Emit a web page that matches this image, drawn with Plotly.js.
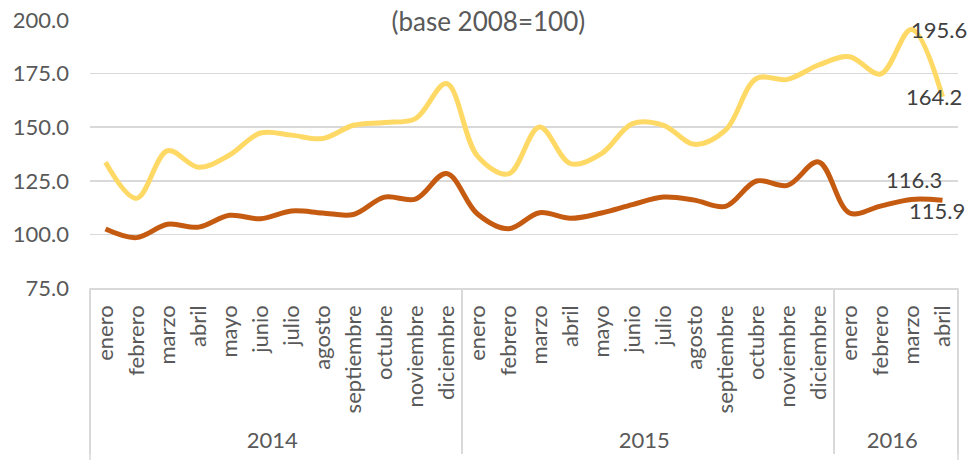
<!DOCTYPE html>
<html>
<head>
<meta charset="utf-8">
<script src="https://cdn.plot.ly/plotly-3.0.1.min.js"></script>
<style>html,body{margin:0;padding:0;background:#fff;} #chart{width:967px;height:460px;}</style>
</head>
<body>
<div id="chart"></div>
<script>
const years = ["2014","2014","2014","2014","2014","2014","2014","2014","2014","2014","2014","2014",
               "2015","2015","2015","2015","2015","2015","2015","2015","2015","2015","2015","2015",
               "2016","2016","2016","2016"];
const months = ["enero","febrero","marzo","abril","mayo","junio","julio","agosto","septiembre","octubre","noviembre","diciembre",
                "enero","febrero","marzo","abril","mayo","junio","julio","agosto","septiembre","octubre","noviembre","diciembre",
                "enero","febrero","marzo","abril"];
const seriesYellow = [133.6,116.8,139.0,131.3,137.0,147.3,146.3,144.7,150.9,152.2,154.0,170.4,
                      136.5,128.2,150.1,133.0,137.7,151.7,150.9,142.0,148.6,172.7,172.3,179.0,
                      182.9,174.8,195.6,164.2];
const seriesOrange = [102.5,98.5,104.7,103.4,108.9,107.3,110.9,110.0,109.3,117.4,116.5,128.4,
                      109.5,102.6,110.1,107.5,110.0,113.9,117.4,116.0,113.1,124.9,122.9,133.8,
                      110.0,113.2,116.3,115.9];
const yTicks = [75,100,125,150,175,200];
const yTickLabels = ["75.0","100.0","125.0","150.0","175.0","200.0"];

const FONT = "Lato, 'Open Sans', sans-serif";
const x = [years, months];
const n = months.length;

const traces = [
  {x: x, y: seriesYellow, type: "scatter", mode: "lines",
   line: {color: "#FFD966", width: 5, shape: "spline", smoothing: 1}, hoverinfo: "skip"},
  {x: x, y: seriesOrange, type: "scatter", mode: "lines",
   line: {color: "#C55A11", width: 5, shape: "spline", smoothing: 1}, hoverinfo: "skip"}
];

const labelFont = {family: FONT, size: 22, color: "#404040"};
const iMar = 26, iAbr = 27;
const annotations = [
  {x: iMar, y: seriesYellow[iMar], xref: "x", yref: "y", text: seriesYellow[iMar].toFixed(1), showarrow: false,
   xanchor: "left", yanchor: "middle", xshift: -3, yshift: 0, font: labelFont},
  {x: iAbr, y: seriesYellow[iAbr], xref: "x", yref: "y", text: seriesYellow[iAbr].toFixed(1), showarrow: false,
   xanchor: "right", yanchor: "middle", xshift: 21, yshift: 0, font: labelFont},
  {x: iMar, y: seriesOrange[iMar], xref: "x", yref: "y", text: seriesOrange[iMar].toFixed(1), showarrow: false,
   xanchor: "center", yanchor: "bottom", xshift: 2, yshift: 4, font: labelFont},
  {x: iAbr, y: seriesOrange[iAbr], xref: "x", yref: "y", text: seriesOrange[iAbr].toFixed(1), showarrow: false,
   xanchor: "center", yanchor: "top", xshift: -6, yshift: 5, font: labelFont}
];

const edgeLine = {type: "line", xref: "paper", yref: "paper", y0: 0, y1: -172/268,
                  line: {color: "#D9D9D9", width: 1.5}};
const shapes = [
  Object.assign({}, edgeLine, {x0: 0, x1: 0}),
  Object.assign({}, edgeLine, {x0: 1, x1: 1})
];

const layout = {
  width: 967, height: 460,
  margin: {l: 90, r: 9, t: 20, b: 172},
  paper_bgcolor: "#ffffff", plot_bgcolor: "#ffffff",
  showlegend: false,
  font: {family: FONT, color: "#595959", size: 22},
  title: {text: "(base 2008=100)", x: 0.505, xanchor: "center", y: 0.952, yanchor: "middle",
          font: {family: FONT, size: 26, color: "#595959"}},
  xaxis: {type: "multicategory", range: [-0.5, n - 0.5], tickangle: -90, showgrid: false, zeroline: false,
          showline: true, linecolor: "#D9D9D9", linewidth: 1.5, ticks: "",
          showdividers: true, dividercolor: "#D9D9D9", dividerwidth: 1.5,
          ticklabelstandoff: 7,
          tickfont: {family: FONT, size: 22, color: "#595959"}},
  yaxis: {range: [75, 200], tickvals: yTicks, ticktext: yTickLabels, showgrid: true,
          gridcolor: "#D9D9D9", gridwidth: 1.5, zeroline: false, showline: false, ticks: "",
          ticklabelstandoff: 20, tickfont: {family: FONT, size: 22, color: "#595959"}},
  shapes: shapes,
  annotations: annotations
};

Plotly.newPlot("chart", traces, layout, {staticPlot: true, displayModeBar: false});
</script>
</body>
</html>
